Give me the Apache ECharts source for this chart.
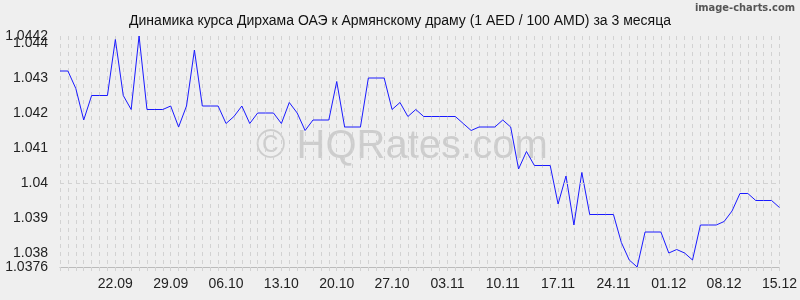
<!DOCTYPE html>
<html><head><meta charset="utf-8">
<script src="https://cdn.jsdelivr.net/npm/echarts@6/dist/echarts.min.js"></script>
<style>html,body{margin:0;padding:0;background:#efefef;}#c{width:800px;height:300px;}</style>
</head><body><div id="c"></div>
<script>
// Dates 15.09 .. 15.12 (one point per day)
const startDay = 15, startMonth = 9; // 15.09
const dayCount = 92;
const tickLabels = ['22.09','29.09','06.10','13.10','20.10','27.10','03.11','10.11','17.11','24.11','01.12','08.12','15.12'];
const yLabels = [1.0376, 1.038, 1.039, 1.04, 1.041, 1.042, 1.043, 1.044];
const yMaxLabel = [1.0442];
const rates = [
 1.0432,1.0432,1.0427,1.0418,1.0425,1.0425,1.0425,1.0441,1.0425,1.0421,
 1.0442,1.0421,1.0421,1.0421,1.0422,1.0416,1.0422,1.0438,1.0422,1.0422,
 1.0422,1.0417,1.0419,1.0422,1.0417,1.0420,1.0420,1.0420,1.0417,1.0423,
 1.0420,1.0415,1.0418,1.0418,1.0418,1.0429,1.0416,1.0416,1.0416,1.0430,
 1.0430,1.0430,1.0421,1.0423,1.0419,1.0421,1.0419,1.0419,1.0419,1.0419,
 1.0419,1.0417,1.0415,1.0416,1.0416,1.0416,1.0418,1.0416,1.0404,1.0409,
 1.0405,1.0405,1.0405,1.0394,1.0402,1.0388,1.0403,1.0391,1.0391,1.0391,
 1.0391,1.0383,1.0378,1.0376,1.0386,1.0386,1.0386,1.0380,1.0381,1.0380,
 1.0378,1.0388,1.0388,1.0388,1.0389,1.0392,1.0397,1.0397,1.0395,1.0395,
 1.0395,1.0393
];
const categories = [];
{
  const d0 = new Date(Date.UTC(2001, startMonth - 1, startDay));
  for (let i = 0; i < dayCount; i++) {
    const d = new Date(d0.getTime() + i * 86400000);
    categories.push(String(d.getUTCDate()).padStart(2,'0') + '.' + String(d.getUTCMonth()+1).padStart(2,'0'));
  }
}
const fam = '"Liberation Sans", Arial, sans-serif';
const gridColor = '#d2d2d2';
const yMin = 1.0376, yMax = 1.0442;
const yLabelStyle = {
  showMinLabel: true, showMaxLabel: true, hideOverlap: false,
  formatter: v => String(+(+v).toFixed(4)),
  margin: 12, fontFamily: fam, fontSize: 14, color: '#222'
};
const chart = echarts.init(document.getElementById('c'), null, {renderer:'canvas'});
chart.setOption({
  backgroundColor: '#efefef',
  animation: false,
  title: {
    text: 'Динамика курса Дирхама ОАЭ к Армянскому драму (1 AED / 100 AMD) за 3 месяца',
    left: 'center', top: 9,
    textStyle: {fontFamily: fam, fontSize: 14, fontWeight: 'normal', color: '#111'}
  },
  graphic: [
    {type:'text', left: 256, top: 127, silent:true, z: 0,
     style:{text:'© HQRates.com', font:'40px "Liberation Sans", Arial, sans-serif', fill:'rgba(0,0,0,0.14)'}},
    {type:'text', right: 5, top: 3, silent:true,
     style:{text:'image-charts.com', font:'bold 11px "Liberation Sans Narrow", "DejaVu Sans Condensed", sans-serif', fill:'#555'}}
  ],
  grid: {left: 60, right: 20, top: 36, bottom: 33, containLabel: false},
  xAxis: {
    type: 'category', data: categories, boundaryGap: false,
    axisLine: {show: true, lineStyle: {color: '#bbbbbb', width: 1}},
    axisTick: {show: true, interval: 0, length: 5, lineStyle: {color: gridColor, type: [4,4]}},
    axisLabel: {
      interval: (i, v) => tickLabels.indexOf(v) >= 0,
      margin: 10, fontFamily: fam, fontSize: 14, color: '#222'
    },
    splitLine: {show: true, interval: 0, lineStyle: {color: gridColor, type: [4,4], width: 1}}
  },
  yAxis: [{
    type: 'value', min: yMin, max: yMax, scale: true, position: 'left',
    axisLine: {show: false},
    axisTick: {show: false},
    splitLine: {show: false},
    axisLabel: Object.assign({customValues: yLabels}, yLabelStyle)
  }, {
    type: 'value', min: yMin, max: yMax, scale: true, position: 'left', offset: 0,
    axisLine: {show: false},
    axisTick: {show: false},
    splitLine: {show: false},
    axisLabel: Object.assign({customValues: yMaxLabel}, yLabelStyle)
  }],
  series: [{
    type: 'line', data: rates, showSymbol: false, symbol: 'none',
    lineStyle: {color: '#1a1aff', width: 1}, z: 3,
    markLine: {
      silent: true, symbol: 'none', label: {show: false},
      lineStyle: {color: gridColor, type: [4,4], width: 1},
      data: yLabels.slice(1).concat(yMaxLabel).map(v => ({yAxis: v}))
    }
  }]
});
</script></body></html>
